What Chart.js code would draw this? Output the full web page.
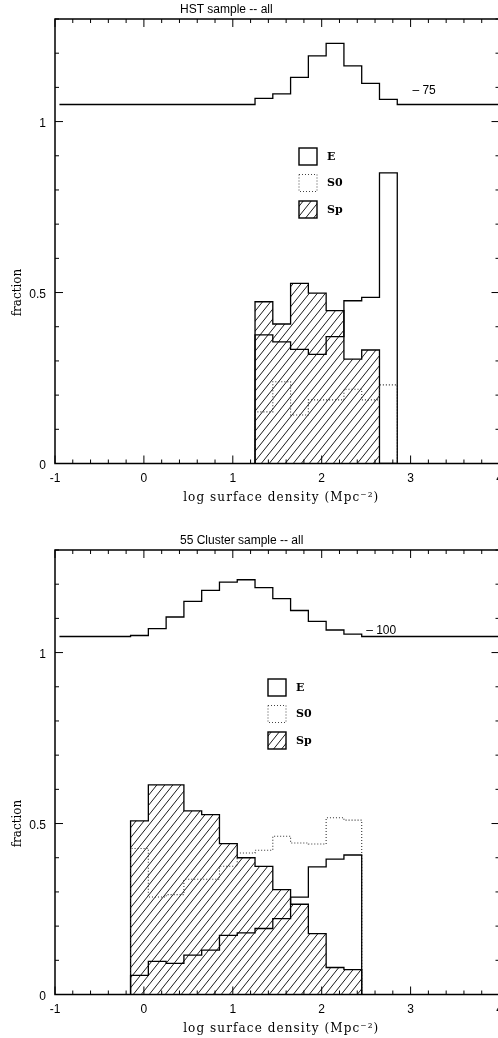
<!DOCTYPE html>
<html>
<head>
<meta charset="utf-8">
<script src="https://cdn.jsdelivr.net/npm/chart.js@4.4.1/dist/chart.umd.min.js"></script>
<style>
  html, body { margin: 0; padding: 0; background: #fff; overflow: hidden; width: 498px; height: 1038px; }
  canvas { position: absolute; left: 0; }
  #hst { top: 0; }
  #cluster { top: 531px; }
</style>
</head>
<body>
<canvas id="hst" width="520" height="507"></canvas>
<canvas id="cluster" width="520" height="507"></canvas>
<script>
// bin edges of the number histograms drawn on top of each panel
const topEdges = [-0.95, -0.75, -0.55, -0.35, -0.15, 0.05, 0.25, 0.45, 0.65, 0.85, 1.05, 1.25, 1.45,
                  1.65, 1.85, 2.05, 2.25, 2.45, 2.65, 2.85, 3.05, 3.25, 3.45, 3.65, 3.85, 4.05];

// HST sample
const hstTop = [1.05, 1.05, 1.05, 1.05, 1.05, 1.05, 1.05, 1.05, 1.05, 1.05, 1.05,
                1.068, 1.081, 1.129, 1.192, 1.229, 1.163, 1.112, 1.065,
                1.05, 1.05, 1.05, 1.05, 1.05, 1.05];
const hstEdges = [1.25, 1.45, 1.65, 1.85, 2.05, 2.25, 2.45, 2.65, 2.85];
const hstE  = [0.376, 0.356, 0.334, 0.319, 0.371, 0.476, 0.486, 0.85];
const hstS0 = [0.151, 0.239, 0.142, 0.186, 0.186, 0.217, 0.186, 0.230];
const hstSp = [0.473, 0.408, 0.527, 0.498, 0.447, 0.305, 0.332, 0];

// 55 cluster sample
const clusterTop = [1.047, 1.047, 1.047, 1.047,
                    1.050, 1.070, 1.104, 1.150, 1.182, 1.206, 1.213, 1.190, 1.158, 1.123, 1.091, 1.066, 1.054,
                    1.047, 1.047, 1.047, 1.047, 1.047, 1.047, 1.047, 1.047];
const clusterEdges = [-0.15, 0.05, 0.25, 0.45, 0.65, 0.85, 1.05, 1.25, 1.45, 1.65, 1.85, 2.05, 2.25, 2.45];
const clusterE  = [0.056, 0.097, 0.091, 0.115, 0.130, 0.173, 0.180, 0.193, 0.222, 0.285, 0.373, 0.396, 0.408];
const clusterS0 = [0.427, 0.285, 0.292, 0.337, 0.337, 0.375, 0.414, 0.422, 0.463, 0.443, 0.440, 0.517, 0.510];
const clusterSp = [0.508, 0.613, 0.613, 0.537, 0.526, 0.441, 0.400, 0.375, 0.307, 0.264, 0.178, 0.079, 0.073];

const legendLabels = ['E', 'S0', 'Sp'];

// hatch pattern for Sp
const tile = document.createElement('canvas');
tile.width = 8; tile.height = 10;
const tg = tile.getContext('2d');
tg.strokeStyle = '#000';
tg.lineWidth = 0.9;
tg.beginPath();
[-8, 0, 8].forEach(dx => { tg.moveTo(dx, 10); tg.lineTo(dx + 8, 0); });
tg.stroke();
const hatch = tg.createPattern(tile, 'repeat');

function steps(edges, vals, closed) {
  const pts = [];
  if (closed) pts.push({x: edges[0], y: 0});
  vals.forEach((v, i) => pts.push({x: edges[i], y: v}));
  pts.push({x: edges[edges.length - 1], y: closed ? 0 : vals[vals.length - 1]});
  return pts;
}

const isWhole = v => Math.abs(v - Math.round(v)) < 1e-6;

// frame with inward ticks, titles and the little legend
const decor = {
  id: 'decor',
  afterDraw(chart, args, opts) {
    const {ctx, chartArea: a, scales: {x, y}} = chart;
    ctx.save();
    ctx.strokeStyle = '#000';
    ctx.lineWidth = 1.5;
    ctx.strokeRect(a.left, a.top, a.right - a.left, a.bottom - a.top);

    ctx.lineWidth = 1;
    ctx.beginPath();
    x.ticks.forEach(t => {
      const px = x.getPixelForValue(t.value);
      const len = isWhole(t.value) ? 8 : 4;
      ctx.moveTo(px, a.bottom); ctx.lineTo(px, a.bottom - len);
      ctx.moveTo(px, a.top); ctx.lineTo(px, a.top + len);
    });
    y.ticks.forEach(t => {
      const py = y.getPixelForValue(t.value);
      const len = isWhole(t.value * 2) ? 8 : 4;
      ctx.moveTo(a.left, py); ctx.lineTo(a.left + len, py);
      ctx.moveTo(a.right, py); ctx.lineTo(a.right - len, py);
    });
    ctx.stroke();

    ctx.fillStyle = '#000';
    ctx.font = '12px "Liberation Sans"';
    ctx.textAlign = 'left';
    ctx.textBaseline = 'alphabetic';
    ctx.fillText(opts.title, 180, 13);

    ctx.textBaseline = 'middle';
    ctx.fillText('\u2013 ' + opts.scaleLabel, x.getPixelForValue(opts.scaleAt[0]), y.getPixelForValue(opts.scaleAt[1]));

    ctx.font = '12px "DejaVu Serif"';
    ctx.textAlign = 'center';
    ctx.textBaseline = 'alphabetic';
    ctx.letterSpacing = '1.1px';
    ctx.fillText('log surface density (Mpc\u207B\u00B2)', (a.left + a.right) / 2 + 4, a.bottom + 37.5);
    ctx.letterSpacing = '0px';

    ctx.save();
    ctx.translate(18, y.getPixelForValue(0.5));
    ctx.rotate(-Math.PI / 2);
    ctx.textBaseline = 'middle';
    ctx.fillText('fraction', 0, 0);
    ctx.restore();

    // legend
    const bx = opts.legendX, by = a.top + 129;
    legendLabels.forEach((lab, i) => {
      const top = by + i * 26.5;
      ctx.save();
      if (lab === 'Sp') {
        ctx.fillStyle = hatch;
        ctx.fillRect(bx, top, 18, 17);
      }
      ctx.lineWidth = lab === 'S0' ? 1 : 1.4;
      ctx.strokeStyle = lab === 'S0' ? '#444' : '#000';
      ctx.setLineDash(lab === 'S0' ? [1, 2] : []);
      ctx.strokeRect(bx, top, 18, 17);
      ctx.restore();
      ctx.font = 'bold 11px "DejaVu Serif"';
      ctx.textAlign = 'left';
      ctx.textBaseline = 'middle';
      ctx.fillText(lab, bx + 28, top + 9);
    });
    ctx.restore();
  }
};

function makeChart(id, cfg) {
  const line = {borderColor: '#000', borderWidth: 1.3, stepped: 'before', pointRadius: 0, fill: false};
  return new Chart(document.getElementById(id), {
    type: 'line',
    data: {
      datasets: [
        Object.assign({}, line, {data: steps(topEdges, cfg.top, false)}),
        Object.assign({}, line, {data: steps(cfg.edges, cfg.e, true)}),
        Object.assign({}, line, {data: steps(cfg.edges, cfg.s0, true), borderColor: '#333', borderWidth: 1.1, borderDash: [1, 2]}),
        Object.assign({}, line, {data: steps(cfg.edges, cfg.sp, true), fill: 'origin', backgroundColor: hatch})
      ]
    },
    options: {
      responsive: false,
      animation: false,
      events: [],
      layout: {padding: {top: 19, left: 0, right: 20.5, bottom: 13.5}},
      plugins: {
        legend: {display: false},
        tooltip: {enabled: false},
        decor: {title: cfg.title, legendX: cfg.legendX, scaleLabel: cfg.scaleLabel, scaleAt: cfg.scaleAt}
      },
      scales: {
        x: {
          type: 'linear', min: -1, max: 4,
          grid: {display: false, drawTicks: false},
          border: {display: false},
          ticks: {
            stepSize: 0.2, autoSkip: false, maxRotation: 0, padding: 8, color: '#000',
            font: {family: 'Liberation Sans', size: 12},
            callback: v => isWhole(v) ? String(Math.round(v)) : ''
          },
          afterFit: s => { s.height = 30; }
        },
        y: {
          type: 'linear', min: 0, max: 1.3,
          grid: {display: false, drawTicks: false},
          border: {display: false},
          ticks: {
            stepSize: 0.1, autoSkip: false, padding: 9, color: '#000', labelOffset: 2,
            font: {family: 'Liberation Sans', size: 12},
            callback: v => isWhole(v * 2) ? String(Math.round(v * 2) / 2) : ''
          },
          afterFit: s => { s.width = 55; }
        }
      }
    },
    plugins: [decor]
  });
}

makeChart('hst', {
  title: 'HST sample -- all', top: hstTop, edges: hstEdges, e: hstE, s0: hstS0, sp: hstSp,
  legendX: 299, scaleLabel: '75', scaleAt: [3.02, 1.09]
});
makeChart('cluster', {
  title: '55 Cluster sample -- all', top: clusterTop, edges: clusterEdges, e: clusterE, s0: clusterS0, sp: clusterSp,
  legendX: 268, scaleLabel: '100', scaleAt: [2.5, 1.065]
});
</script>
</body>
</html>
